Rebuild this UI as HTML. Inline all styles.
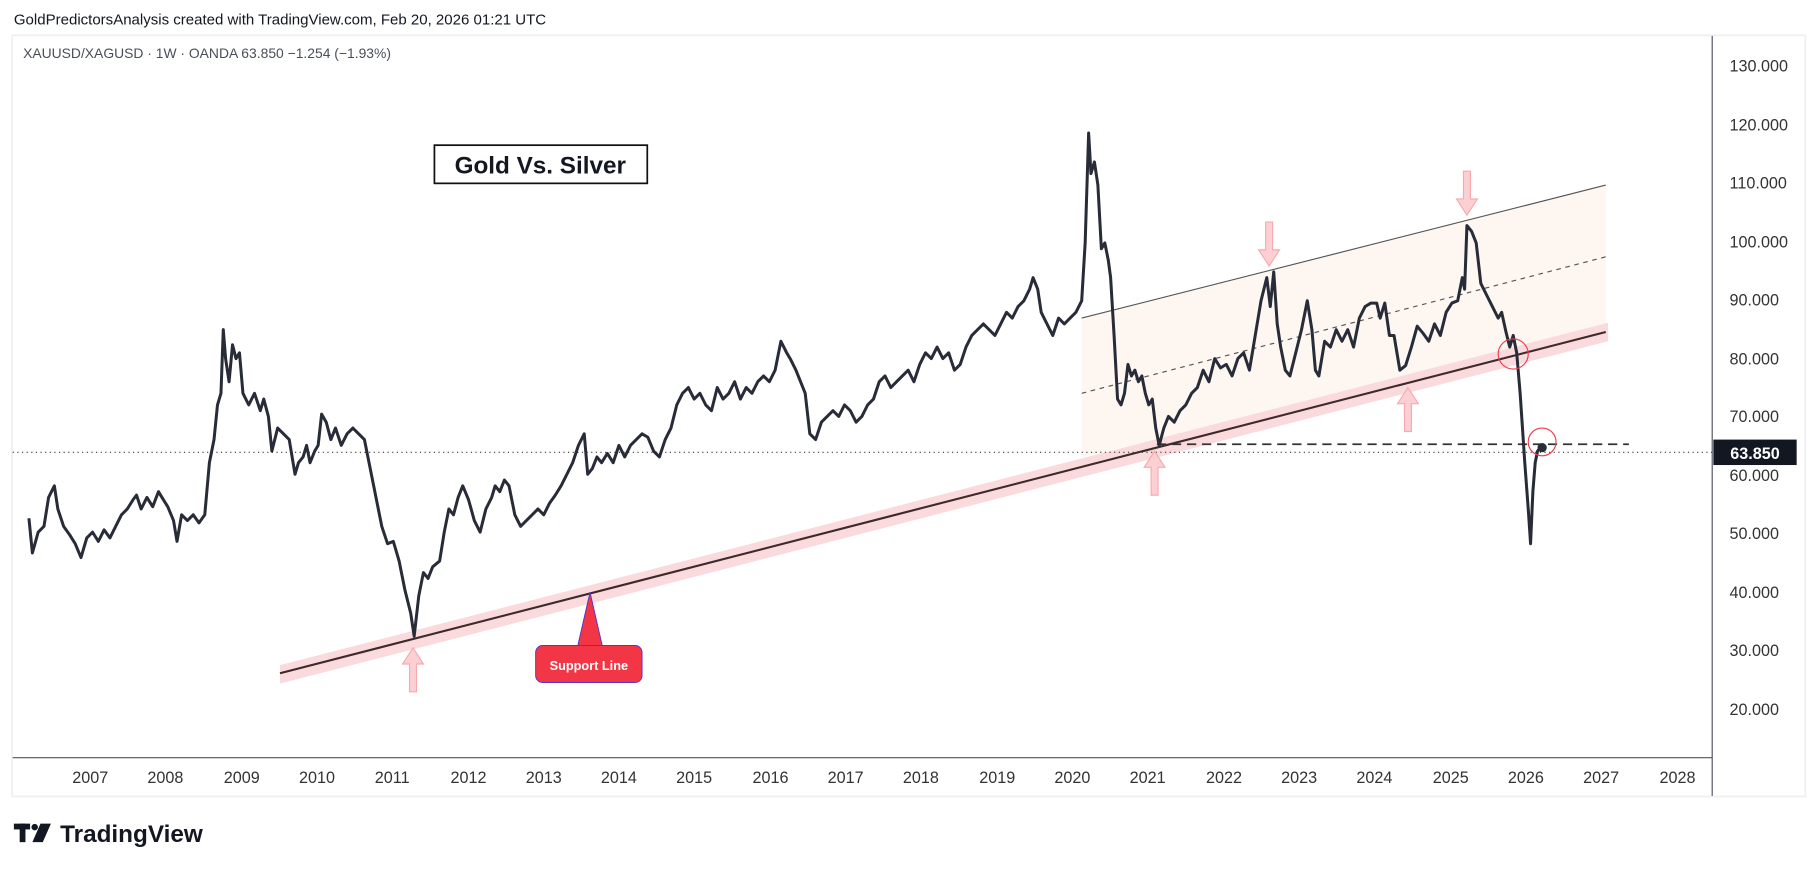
<!DOCTYPE html>
<html><head><meta charset="utf-8"><style>
html,body{margin:0;padding:0;background:#fff;width:1814px;height:872px;overflow:hidden}
svg{display:block}
text{font-family:"Liberation Sans",sans-serif}
</style></head><body>
<svg width="1814" height="872" viewBox="0 0 1568 753.8" preserveAspectRatio="none">
<rect x="0" y="0" width="1568" height="754" fill="#fff"/>
<text x="12" y="21" font-size="13" fill="#131722">GoldPredictorsAnalysis created with TradingView.com, Feb 20, 2026 01:21 UTC</text>
<rect x="10.5" y="30.5" width="1550" height="658" fill="none" stroke="#eeeff2" stroke-width="1.5"/>
<text x="20" y="50" font-size="12" fill="#4a4e59">XAUUSD/XAGUSD · 1W · OANDA  63.850  −1.254 (−1.93%)</text>
<!-- axes -->
<line x1="1480" y1="31" x2="1480" y2="688" stroke="#50535e" stroke-width="1"/>
<line x1="11" y1="655" x2="1480" y2="655" stroke="#50535e" stroke-width="1"/>
<g font-size="14" fill="#333">
<text x="1495" y="62">130.000</text><text x="1495" y="113">120.000</text><text x="1495" y="163">110.000</text>
<text x="1495" y="214">100.000</text><text x="1495" y="264">90.000</text><text x="1495" y="315">80.000</text>
<text x="1495" y="365">70.000</text><text x="1495" y="416">60.000</text><text x="1495" y="466">50.000</text>
<text x="1495" y="517">40.000</text><text x="1495" y="567">30.000</text><text x="1495" y="618">20.000</text>
</g>
<g font-size="14" fill="#333" text-anchor="middle">
<text x="78" y="677">2007</text><text x="143" y="677">2008</text><text x="209" y="677">2009</text><text x="274" y="677">2010</text>
<text x="339" y="677">2011</text><text x="405" y="677">2012</text><text x="470" y="677">2013</text><text x="535" y="677">2014</text>
<text x="600" y="677">2015</text><text x="666" y="677">2016</text><text x="731" y="677">2017</text><text x="796" y="677">2018</text>
<text x="862" y="677">2019</text><text x="927" y="677">2020</text><text x="992" y="677">2021</text><text x="1058" y="677">2022</text>
<text x="1123" y="677">2023</text><text x="1188" y="677">2024</text><text x="1254" y="677">2025</text><text x="1319" y="677">2026</text>
<text x="1384" y="677">2027</text><text x="1450" y="677">2028</text>
</g>
<!-- channel -->
<polygon points="935,275 1388,160 1388,287 935,395" fill="#fdf5ee" opacity="0.85"/>
<line x1="935" y1="275" x2="1388" y2="160" stroke="#555" stroke-width="1"/>
<line x1="935" y1="340" x2="1388" y2="222" stroke="#555" stroke-width="1" stroke-dasharray="4,4"/>
<!-- support band & line -->
<polygon points="242,575 1390,279 1390,295 242,591" fill="#fadadd"/>
<line x1="242" y1="582" x2="1388" y2="287" stroke="#3d2a2a" stroke-width="1.8"/>
<line x1="1000" y1="384" x2="1408" y2="384" stroke="#333" stroke-width="1.5" stroke-dasharray="8,5"/>
<line x1="11" y1="391" x2="1480" y2="391" stroke="#333" stroke-width="1" stroke-dasharray="1,3"/>
<!-- arrows -->
<g fill="#fcd0d3" stroke="#f6a9ae" stroke-width="1">
<path d="M357,560 l-9,14 h6 v24 h6 v-24 h6 z"/>
<path d="M998,390 l-9,14 h6 v24 h6 v-24 h6 z"/>
<path d="M1217,335 l-9,14 h6 v24 h6 v-24 h6 z"/>
<path d="M1097,230 l-9,-14 h6 v-24 h6 v24 h6 z"/>
<path d="M1268,186 l-9,-14 h6 v-24 h6 v24 h6 z"/>
</g>
<!-- price -->
<polyline fill="none" stroke="#272c38" stroke-width="2.6" stroke-linejoin="round" points="25,448 28,478 33,460 38,455 42,430 47,420 50,440 55,455 60,462 65,470 70,482 75,465 80,460 85,468 90,458 95,465 100,455 105,445 110,440 115,432 118,428 122,440 127,430 132,438 137,425 140,430 145,438 150,450 153,468 157,445 162,450 167,445 172,452 177,445 181,400 185,380 188,350 191,340 193,285 195,310 198,330 201,298 204,310 207,305 210,340 215,350 220,340 225,355 228,345 232,360 235,390 240,370 245,375 250,380 255,410 258,400 262,395 265,385 268,400 272,390 275,385 278,358 282,365 286,380 290,370 295,385 300,375 305,370 310,375 315,380 320,405 325,430 330,455 335,470 340,468 345,485 350,510 355,530 358,550 362,515 366,495 370,500 374,490 380,485 384,460 388,440 392,445 396,430 400,420 405,432 410,450 415,460 420,440 425,430 428,420 432,425 436,415 440,420 445,445 450,455 455,450 460,445 465,440 470,445 475,435 480,428 485,420 490,410 495,400 500,385 505,375 508,410 512,405 516,395 520,400 525,392 530,400 535,385 540,395 545,385 550,380 555,375 560,378 565,390 570,395 575,380 580,370 585,350 590,340 595,335 600,345 605,340 610,350 615,355 620,335 625,345 630,340 635,330 640,345 645,335 650,340 655,330 660,325 665,330 670,320 675,295 680,305 683,310 688,320 692,330 696,340 700,375 705,380 710,365 715,360 720,355 725,360 730,350 735,355 740,365 745,360 750,350 755,345 760,330 765,325 770,335 775,330 780,325 785,320 790,330 795,315 800,305 805,310 810,300 815,310 820,305 825,320 830,315 835,300 840,290 845,285 850,280 855,285 860,290 865,280 870,270 875,275 880,265 885,260 890,250 893,240 897,250 900,270 905,280 910,290 915,275 920,280 925,275 930,270 935,260 938,210 941,115 943,150 946,140 949,160 952,215 955,210 958,225 960,240 963,290 966,345 969,350 972,340 975,315 978,325 981,320 984,330 987,325 990,340 993,350 996,345 999,370 1002,385 1006,370 1010,360 1015,365 1020,355 1025,350 1030,340 1035,335 1040,320 1045,330 1050,310 1055,318 1060,315 1065,325 1070,310 1075,305 1080,320 1085,290 1090,260 1095,240 1098,265 1101,235 1104,280 1107,300 1111,320 1115,325 1120,305 1125,285 1130,260 1134,285 1137,320 1140,325 1145,295 1150,300 1155,285 1160,295 1165,285 1170,300 1175,275 1180,265 1185,262 1190,262 1193,275 1197,262 1201,290 1205,290 1210,320 1215,316 1220,300 1225,282 1230,288 1235,295 1240,280 1245,290 1250,270 1255,262 1260,260 1264,240 1266,250 1268,195 1272,200 1276,210 1280,245 1285,255 1290,265 1295,275 1298,270 1302,288 1305,300 1308,290 1311,305 1314,340 1318,400 1321,440 1323,470 1325,425 1327,400 1329,390 1333,385"/>
<circle cx="1333" cy="387" r="4" fill="#272c38"/>
<circle cx="1308" cy="306" r="13" fill="none" stroke="#f03c4c" stroke-width="1"/>
<circle cx="1333" cy="382" r="12" fill="none" stroke="#f03c4c" stroke-width="1"/>
<!-- title -->
<rect x="375.5" y="125.5" width="184" height="33" fill="#fff" stroke="#111" stroke-width="1.5"/>
<text x="467" y="150" font-size="21" font-weight="bold" fill="#131722" text-anchor="middle">Gold Vs. Silver</text>
<!-- support label -->
<path d="M499,560 L510,512 L521,560 Z" fill="#f23645" stroke="#5533cc" stroke-width="0.8"/>
<rect x="463" y="558" width="92" height="32" rx="6" fill="#f23645" stroke="#5533cc" stroke-width="0.8"/>
<text x="509" y="579" font-size="11" font-weight="bold" fill="#fff" text-anchor="middle">Support Line</text>
<!-- price label -->
<rect x="1481" y="380" width="72" height="22" fill="#131722"/>
<text x="1517" y="397" font-size="14" font-weight="bold" fill="#fff" text-anchor="middle">63.850</text>
<!-- logo -->
<g fill="#131722">
<rect x="12" y="712" width="14" height="5"/><rect x="17" y="712" width="5" height="16"/>
<circle cx="30" cy="715" r="2.8"/><path d="M35,712 h9 l-7,16 h-9 z"/>
</g>
<text x="52" y="728" font-size="21" font-weight="bold" fill="#131722">TradingView</text>
</svg>
</body></html>
